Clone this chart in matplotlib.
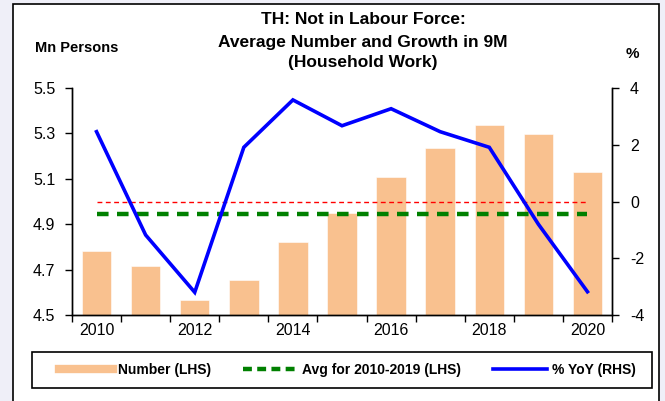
import matplotlib
matplotlib.use("Agg")
import matplotlib.pyplot as plt
import matplotlib.patches as mpatches
from matplotlib.lines import Line2D
import numpy as np

plt.rcParams['font.family'] = ['Liberation Sans', 'DejaVu Sans']
plt.rcParams['axes.unicode_minus'] = False

years = [2010, 2011, 2012, 2013, 2014, 2015, 2016, 2017, 2018, 2019, 2020]
number_mn = [4.78, 4.717, 4.566, 4.653, 4.82, 4.948, 5.109, 5.236, 5.337, 5.297, 5.128]
yoy_pct = [2.46, -1.18, -3.2, 1.91, 3.58, 2.67, 3.27, 2.46, 1.91, -0.8, -3.18]
avg_years = [2010, 2019]
year_labels = ['2010', '2012', '2014', '2016', '2018', '2020']
left_ticks = [4.5, 4.7, 4.9, 5.1, 5.3, 5.5]
right_ticks = [-4, -2, 0, 2, 4]

bar_col = '#F9C18F'
W, H = 665, 401

fig = plt.figure(figsize=(W / 100, H / 100), dpi=100, facecolor='#EFEFF8')

# white panel with black border
panel = mpatches.Rectangle((13 / W, -0.05), (659 - 13) / W, (401 - 4) / H + 0.05,
                           transform=fig.transFigure, facecolor='white',
                           edgecolor='black', linewidth=1.2, zorder=-10)
fig.patches.append(panel)

ax = fig.add_axes([72 / W, (H - 315) / H, (612 - 72) / W, (315 - 88) / H])
ax.set_facecolor('none')
ax2 = ax.twinx()

x = np.arange(len(years))
ax.bar(x, number_mn, width=0.6, color=bar_col, edgecolor='white', linewidth=0.4, zorder=1)

# average of 2010-2019
i0, i1 = years.index(avg_years[0]), years.index(avg_years[1])
avg_val = np.mean(number_mn[i0:i1 + 1])
ax.plot([x[0], x[-1]], [avg_val, avg_val], color='#008000', lw=3.2,
        linestyle=(0, (2.6, 1.9)), zorder=3)

ax2.plot([x[0], x[-1]], [0, 0], color='red', lw=1.0, linestyle=(0, (3.5, 2.5)), zorder=2)
ax2.plot(x, yoy_pct, color='#0000FF', lw=2.6, solid_joinstyle='miter', zorder=4)

ax.set_xlim(-0.5, len(years) - 0.5)
ax.set_ylim(4.5, 5.5)
ax2.set_ylim(-4, 4)

ax.set_xticks(np.arange(-0.5, len(years), 1.0))
ax.set_xticklabels([])
ax.set_xticks([years.index(int(y)) for y in year_labels], minor=True)
ax.set_xticklabels(year_labels, minor=True)
ax.tick_params(axis='x', which='major', direction='out', length=5, width=1)
ax.tick_params(axis='x', which='minor', length=0, pad=6, labelsize=11.5)

ax.set_yticks(left_ticks)
ax.set_yticklabels([f'{v:.1f}' for v in left_ticks])
ax.tick_params(axis='y', direction='out', length=5, width=1, pad=7, labelsize=11.5)
ax2.set_yticks(right_ticks)
ax2.set_yticklabels([str(v) for v in right_ticks])
ax2.tick_params(axis='y', direction='out', length=5, width=1, pad=8, labelsize=11.5)

for a in (ax, ax2):
    a.spines['top'].set_visible(False)
    for s in ('left', 'right', 'bottom'):
        a.spines[s].set_linewidth(1)

# titles and axis captions
fig.text(363 / W, 1 - 20 / H, 'TH: Not in Labour Force:', ha='center', va='center',
         fontsize=12.5, fontweight='bold')
fig.text(363 / W, 1 - 42 / H, 'Average Number and Growth in 9M', ha='center', va='center',
         fontsize=12.5, fontweight='bold')
fig.text(363 / W, 1 - 63 / H, '(Household Work)', ha='center', va='center',
         fontsize=12.5, fontweight='bold')
fig.text(35 / W, 1 - 48 / H, 'Mn Persons', ha='left', va='center', fontsize=10.5, fontweight='bold')
fig.text(632 / W, 1 - 54 / H, '%', ha='center', va='center', fontsize=11, fontweight='bold')

# legend box
box = mpatches.Rectangle((32 / W, 1 - 388 / H), (652 - 32) / W, 36 / H,
                         transform=fig.transFigure, facecolor='white',
                         edgecolor='black', linewidth=1.2, zorder=5)
fig.patches.append(box)

handles = [
    Line2D([], [], color=bar_col, lw=6),
    Line2D([], [], color='#008000', lw=3.2, linestyle=(0, (2.0, 1.2))),
    Line2D([], [], color='#0000FF', lw=2.6),
]
labels = ['Number (LHS)', 'Avg for 2010-2019 (LHS)', '% YoY (RHS)']
leg = fig.legend(handles, labels, loc='center', ncol=3,
                 bbox_to_anchor=(347 / W, 1 - 370 / H),
                 prop={'weight': 'bold', 'size': 10},
                 frameon=False, handlelength=3.9, handletextpad=0.35,
                 columnspacing=2.3, borderpad=0.2)
leg.set_zorder(6)

fig.savefig('out.png', dpi=100, facecolor=fig.get_facecolor())
